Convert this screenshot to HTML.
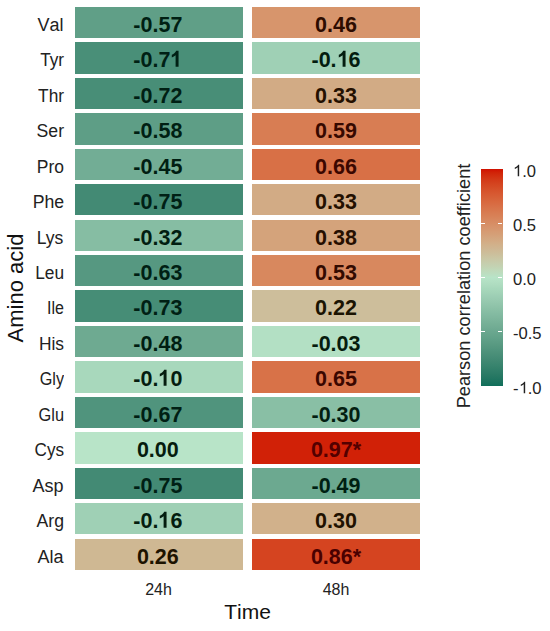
<!DOCTYPE html>
<html><head><meta charset="utf-8"><style>
html,body{margin:0;padding:0;background:#fff;}
body{width:550px;height:631px;position:relative;overflow:hidden;font-family:"Liberation Sans",sans-serif;font-kerning:none;font-feature-settings:"kern" 0;}
.t{position:absolute;height:31.4px;text-align:center;font-weight:bold;font-size:21.5px;color:#111;}
.t span{position:absolute;left:0;right:0;top:0;line-height:31.4px;transform:translateY(2.3px) scaleY(1.06);}
.t.c0 span{left:-2.5px;}
.yl{position:absolute;left:0;width:63.6px;height:31.4px;line-height:36.0px;text-align:right;font-size:18px;color:#222;}
.yl span{display:inline-block;transform-origin:100% 50%;}
.xl{position:absolute;font-size:16px;color:#222;width:100px;text-align:center;}
.cb{position:absolute;}
.tk{position:absolute;width:4.3px;height:1px;background:#fff;}
.ll{position:absolute;left:513px;font-size:16.6px;color:#222;transform:translateY(-50%);line-height:1;}
.rot{position:absolute;white-space:nowrap;transform-origin:0 0;}
svg.ob,svg.or{display:inline-block;width:0.5562em;vertical-align:baseline;fill:currentColor;overflow:visible;}
svg.ob{height:15px;}
svg.or{height:11.6px;}
</style></head><body>
<div class="yl" style="top:6.80px"><span style="transform:scaleX(1.0)">Val</span></div><div class="t c0" style="left:75.2px;top:6.80px;width:167.8px;background:#609f87;color:#001f13"><span>-0.57</span></div><div class="t c1" style="left:252.0px;top:6.80px;width:168.0px;background:#d7956c;color:#2d0c00"><span>0.46</span></div><div class="yl" style="top:42.25px;font-kerning:normal;font-feature-settings:normal"><span style="transform:scaleX(0.955)">Tyr</span></div><div class="t c0" style="left:75.2px;top:42.25px;width:167.8px;background:#498f78;color:#002014"><span>-0.7<svg class="ob" viewBox="0 0 1139 1409" preserveAspectRatio="none"><path d="M815 1409L534 1409L534 395Q380 533 171 599L171 355Q281 321 410 225Q539 128 587 0L815 0Z"/></svg></span></div><div class="t c1" style="left:252.0px;top:42.25px;width:168.0px;background:#9fd0b5;color:#041d0f"><span>-0.<svg class="ob" viewBox="0 0 1139 1409" preserveAspectRatio="none"><path d="M815 1409L534 1409L534 395Q380 533 171 599L171 355Q281 321 410 225Q539 128 587 0L815 0Z"/></svg>6</span></div><div class="yl" style="top:77.70px"><span style="transform:scaleX(0.96)">Thr</span></div><div class="t c0" style="left:75.2px;top:77.70px;width:167.8px;background:#488e77;color:#002014"><span>-0.72</span></div><div class="t c1" style="left:252.0px;top:77.70px;width:168.0px;background:#d2ab85;color:#241000"><span>0.33</span></div><div class="yl" style="top:113.15px"><span style="transform:scaleX(0.98)">Ser</span></div><div class="t c0" style="left:75.2px;top:113.15px;width:167.8px;background:#5e9e86;color:#001f13"><span>-0.58</span></div><div class="t c1" style="left:252.0px;top:113.15px;width:168.0px;background:#d87d53;color:#360900"><span>0.59</span></div><div class="yl" style="top:148.60px"><span style="transform:scaleX(0.97)">Pro</span></div><div class="t c0" style="left:75.2px;top:148.60px;width:167.8px;background:#72ad95;color:#011e12"><span>-0.45</span></div><div class="t c1" style="left:252.0px;top:148.60px;width:168.0px;background:#d87046;color:#3b0700"><span>0.66</span></div><div class="yl" style="top:184.05px"><span style="transform:scaleX(0.98)">Phe</span></div><div class="t c0" style="left:75.2px;top:184.05px;width:167.8px;background:#438a74;color:#002015"><span>-0.75</span></div><div class="t c1" style="left:252.0px;top:184.05px;width:168.0px;background:#d2ab85;color:#241000"><span>0.33</span></div><div class="yl" style="top:219.50px;font-kerning:normal;font-feature-settings:normal"><span style="transform:scaleX(0.975)">Lys</span></div><div class="t c0" style="left:75.2px;top:219.50px;width:167.8px;background:#86bda3;color:#021e11"><span>-0.32</span></div><div class="t c1" style="left:252.0px;top:219.50px;width:168.0px;background:#d4a37b;color:#270f00"><span>0.38</span></div><div class="yl" style="top:254.95px"><span style="transform:scaleX(0.96)">Leu</span></div><div class="t c0" style="left:75.2px;top:254.95px;width:167.8px;background:#569881;color:#001f14"><span>-0.63</span></div><div class="t c1" style="left:252.0px;top:254.95px;width:168.0px;background:#d8885e;color:#320a00"><span>0.53</span></div><div class="yl" style="top:290.40px"><span style="transform:scaleX(0.89)">Ile</span></div><div class="t c0" style="left:75.2px;top:290.40px;width:167.8px;background:#468d76;color:#002014"><span>-0.73</span></div><div class="t c1" style="left:252.0px;top:290.40px;width:168.0px;background:#cdbe9b;color:#1b1402"><span>0.22</span></div><div class="yl" style="top:325.85px"><span style="transform:scaleX(0.965)">His</span></div><div class="t c0" style="left:75.2px;top:325.85px;width:167.8px;background:#6eaa91;color:#001e12"><span>-0.48</span></div><div class="t c1" style="left:252.0px;top:325.85px;width:168.0px;background:#b3e0c4;color:#061c0e"><span>-0.03</span></div><div class="yl" style="top:361.30px"><span style="transform:scaleX(0.9)">Gly</span></div><div class="t c0" style="left:75.2px;top:361.30px;width:167.8px;background:#a8d8bc;color:#051d0f"><span>-0.<svg class="ob" viewBox="0 0 1139 1409" preserveAspectRatio="none"><path d="M815 1409L534 1409L534 395Q380 533 171 599L171 355Q281 321 410 225Q539 128 587 0L815 0Z"/></svg>0</span></div><div class="t c1" style="left:252.0px;top:361.30px;width:168.0px;background:#d87248;color:#3a0700"><span>0.65</span></div><div class="yl" style="top:396.75px"><span style="transform:scaleX(0.91)">Glu</span></div><div class="t c0" style="left:75.2px;top:396.75px;width:167.8px;background:#50947d;color:#001f14"><span>-0.67</span></div><div class="t c1" style="left:252.0px;top:396.75px;width:168.0px;background:#89bfa5;color:#031e11"><span>-0.30</span></div><div class="yl" style="top:432.20px"><span style="transform:scaleX(0.95)">Cys</span></div><div class="t c0" style="left:75.2px;top:432.20px;width:167.8px;background:#b8e4c8;color:#061c0e"><span>0.00</span></div><div class="t c1" style="left:252.0px;top:432.20px;width:168.0px;background:#d12107;color:#530000"><span>0.97*</span></div><div class="yl" style="top:467.65px"><span style="transform:scaleX(1.0)">Asp</span></div><div class="t c0" style="left:75.2px;top:467.65px;width:167.8px;background:#438a74;color:#002015"><span>-0.75</span></div><div class="t c1" style="left:252.0px;top:467.65px;width:168.0px;background:#6ca990;color:#001f12"><span>-0.49</span></div><div class="yl" style="top:503.10px"><span style="transform:scaleX(0.98)">Arg</span></div><div class="t c0" style="left:75.2px;top:503.10px;width:167.8px;background:#9fd0b5;color:#041d0f"><span>-0.<svg class="ob" viewBox="0 0 1139 1409" preserveAspectRatio="none"><path d="M815 1409L534 1409L534 395Q380 533 171 599L171 355Q281 321 410 225Q539 128 587 0L815 0Z"/></svg>6</span></div><div class="t c1" style="left:252.0px;top:503.10px;width:168.0px;background:#d1b18b;color:#211100"><span>0.30</span></div><div class="yl" style="top:538.55px"><span style="transform:scaleX(1.0)">Ala</span></div><div class="t c0" style="left:75.2px;top:538.55px;width:167.8px;background:#cfb893;color:#1e1300"><span>0.26</span></div><div class="t c1" style="left:252.0px;top:538.55px;width:168.0px;background:#d54420;color:#490000"><span>0.86*</span></div>
<div class="xl" style="left:108.5px;top:580.8px">24h</div>
<div class="xl" style="left:286px;top:580.8px">48h</div>
<div style="position:absolute;left:0;width:495px;top:600.2px;text-align:center;font-size:21px;color:#111;">Time</div>
<div class="rot" style="left:3.3px;top:287.8px;font-size:22px;color:#111;transform:rotate(-90deg) translateX(-50%);">Amino acid</div>
<div class="rot" style="left:453.7px;top:285.5px;font-size:18.2px;color:#222;transform:rotate(-90deg) translateX(-50%);">Pearson correlation coefficient</div>
<div class="cb" style="left:481px;top:168.7px;width:21.5px;height:217.3px;background:linear-gradient(to bottom,#d01000 0.00%,#d12308 1.67%,#d22f10 3.33%,#d33a18 5.00%,#d4431f 6.67%,#d54b25 8.33%,#d6532c 10.00%,#d75a32 11.67%,#d76138 13.33%,#d8683e 15.00%,#d86e45 16.67%,#d8754b 18.33%,#d87b51 20.00%,#d88157 21.67%,#d8875e 23.33%,#d78d64 25.00%,#d7936b 26.67%,#d69971 28.33%,#d59f77 30.00%,#d4a57e 31.67%,#d3ab84 33.33%,#d1b18b 35.00%,#cfb692 36.67%,#cdbc98 38.33%,#cbc29f 40.00%,#c9c8a6 41.67%,#c6cdad 43.33%,#c3d3b3 45.00%,#c0d9ba 46.67%,#bcdec1 48.33%,#b8e4c8 50.00%,#b3e0c4 51.67%,#aedcc0 53.33%,#a8d8bc 55.00%,#a3d4b8 56.67%,#9ecfb5 58.33%,#99cbb1 60.00%,#94c7ad 61.67%,#8fc3a9 63.33%,#89bfa5 65.00%,#84bba2 66.67%,#7fb79e 68.33%,#7ab39a 70.00%,#75af96 71.67%,#70ab93 73.33%,#6aa78f 75.00%,#65a48b 76.67%,#60a088 78.33%,#5b9c84 80.00%,#569880 81.67%,#50947d 83.33%,#4b9079 85.00%,#468c76 86.67%,#408872 88.33%,#3a856f 90.00%,#34816b 91.67%,#2e7d68 93.33%,#287964 95.00%,#217561 96.67%,#19725d 98.33%,#0f6e5a 100.00%)"></div>
<div class="tk" style="left:481px;top:168.20px"></div><div class="tk" style="left:498.20px;top:168.20px"></div><div class="tk" style="left:481px;top:222.52px"></div><div class="tk" style="left:498.20px;top:222.52px"></div><div class="tk" style="left:481px;top:276.85px"></div><div class="tk" style="left:498.20px;top:276.85px"></div><div class="tk" style="left:481px;top:331.18px"></div><div class="tk" style="left:498.20px;top:331.18px"></div><div class="tk" style="left:481px;top:385.50px"></div><div class="tk" style="left:498.20px;top:385.50px"></div>
<div class="ll" style="top:171.50px"><svg class="or" viewBox="0 0 1139 1409" preserveAspectRatio="none"><path d="M763 1409L583 1409L583 311Q518 370 412 430Q306 489 222 519L222 352Q373 284 486 188Q599 91 646 0L763 0Z"/></svg>.0</div><div class="ll" style="top:225.82px">0.5</div><div class="ll" style="top:280.15px">0.0</div><div class="ll" style="top:334.48px">-0.5</div><div class="ll" style="top:388.80px">-<svg class="or" viewBox="0 0 1139 1409" preserveAspectRatio="none"><path d="M763 1409L583 1409L583 311Q518 370 412 430Q306 489 222 519L222 352Q373 284 486 188Q599 91 646 0L763 0Z"/></svg>.0</div>
</body></html>
